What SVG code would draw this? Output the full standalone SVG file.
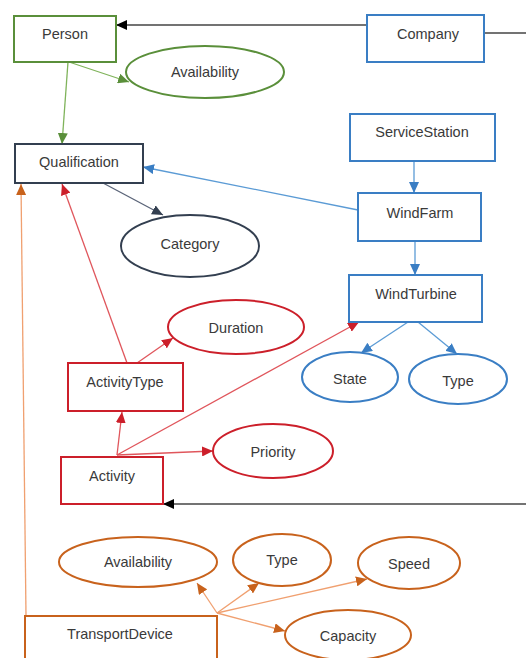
<svg xmlns="http://www.w3.org/2000/svg" width="526" height="658" viewBox="0 0 526 658">
<style>
text{font-family:"Liberation Sans",Arial,sans-serif;font-size:14.5px;fill:#3a3a3a;text-anchor:middle;dominant-baseline:central}
.n{fill:#fff;stroke-width:2}
.g{stroke:#5a8f3a}
.b{stroke:#3a7ec4}
.r{stroke:#cc1f2a}
.o{stroke:#c8621c}
.k{stroke:#333f50}
.c{fill:none;stroke-width:1.3}
</style>
<defs>
<marker id="ak" markerUnits="userSpaceOnUse" markerWidth="12" markerHeight="10" refX="11" refY="5" orient="auto"><path d="M0,0 L11,5 L0,10 z" fill="#000"/></marker>
<marker id="ag" markerUnits="userSpaceOnUse" markerWidth="12" markerHeight="10" refX="11" refY="5" orient="auto"><path d="M0,0 L11,5 L0,10 z" fill="#5a8f3a"/></marker>
<marker id="ab" markerUnits="userSpaceOnUse" markerWidth="12" markerHeight="10" refX="11" refY="5" orient="auto"><path d="M0,0 L11,5 L0,10 z" fill="#3a7ec4"/></marker>
<marker id="ar" markerUnits="userSpaceOnUse" markerWidth="12" markerHeight="10" refX="11" refY="5" orient="auto"><path d="M0,0 L11,5 L0,10 z" fill="#cc1f2a"/></marker>
<marker id="ao" markerUnits="userSpaceOnUse" markerWidth="12" markerHeight="10" refX="11" refY="5" orient="auto"><path d="M0,0 L11,5 L0,10 z" fill="#c8621c"/></marker>
<marker id="an" markerUnits="userSpaceOnUse" markerWidth="12" markerHeight="10" refX="11" refY="5" orient="auto"><path d="M0,0 L11,5 L0,10 z" fill="#333f50"/></marker>
</defs>
<g id="connectors">
<line class="c" x1="367" y1="25" x2="116" y2="25" stroke="#444" marker-end="url(#ak)"/>
<line class="c" x1="484" y1="33" x2="526" y2="33" stroke="#444"/>
<line class="c" x1="526" y1="504" x2="163" y2="504" stroke="#444" marker-end="url(#ak)"/>
<line class="c" x1="69" y1="62" x2="129" y2="82" stroke="#7fb35a" marker-end="url(#ag)"/>
<line class="c" x1="68" y1="62" x2="62" y2="144" stroke="#7fb35a" marker-end="url(#ag)"/>
<line class="c" x1="414" y1="161" x2="414" y2="193" stroke="#5b9bd5" marker-end="url(#ab)"/>
<line class="c" x1="358" y1="210" x2="143" y2="167" stroke="#5b9bd5" marker-end="url(#ab)"/>
<line class="c" x1="415" y1="241" x2="415" y2="275" stroke="#5b9bd5" marker-end="url(#ab)"/>
<line class="c" x1="408" y1="322" x2="361" y2="353" stroke="#5b9bd5" marker-end="url(#ab)"/>
<line class="c" x1="418" y1="322" x2="457" y2="354" stroke="#5b9bd5" marker-end="url(#ab)"/>
<line class="c" x1="103" y1="183" x2="163" y2="215" stroke="#5a6478" marker-end="url(#an)"/>
<line class="c" x1="127" y1="363" x2="62" y2="184" stroke="#e0565c" marker-end="url(#ar)"/>
<line class="c" x1="137" y1="363" x2="173" y2="338" stroke="#e0565c" marker-end="url(#ar)"/>
<line class="c" x1="117" y1="455" x2="122" y2="412" stroke="#e0565c" marker-end="url(#ar)"/>
<line class="c" x1="117" y1="455" x2="359" y2="322" stroke="#e0565c" marker-end="url(#ar)"/>
<line class="c" x1="117" y1="455" x2="213" y2="451" stroke="#e0565c" marker-end="url(#ar)"/>
<line class="c" x1="26" y1="616" x2="21" y2="184" stroke="#f0a070" marker-end="url(#ao)"/>
<line class="c" x1="217" y1="613" x2="197" y2="583" stroke="#f0a070" marker-end="url(#ao)"/>
<line class="c" x1="217" y1="613" x2="259" y2="583" stroke="#f0a070" marker-end="url(#ao)"/>
<line class="c" x1="217" y1="613" x2="367" y2="579" stroke="#f0a070" marker-end="url(#ao)"/>
<line class="c" x1="217" y1="613" x2="285" y2="631" stroke="#f0a070" marker-end="url(#ao)"/>
</g>
<g id="person"><rect class="n g" x="14" y="16" width="102" height="46"/><text x="65" y="34">Person</text></g>
<g id="company"><rect class="n b" x="367" y="15" width="117" height="47"/><text x="428" y="34">Company</text></g>
<g id="person-availability"><ellipse class="n g" cx="205" cy="72" rx="79" ry="26"/><text x="205" y="72">Availability</text></g>
<g id="qualification"><rect class="n k" x="15" y="144" width="128" height="39"/><text x="79" y="162">Qualification</text></g>
<g id="servicestation"><rect class="n b" x="350" y="114" width="145" height="47"/><text x="422" y="132">ServiceStation</text></g>
<g id="windfarm"><rect class="n b" x="358" y="193" width="123" height="48"/><text x="420" y="213">WindFarm</text></g>
<g id="category"><ellipse class="n k" cx="190" cy="246" rx="69" ry="31"/><text x="190" y="244">Category</text></g>
<g id="windturbine"><rect class="n b" x="349" y="275" width="133" height="47"/><text x="416" y="294">WindTurbine</text></g>
<g id="state"><ellipse class="n b" cx="350" cy="377" rx="48" ry="25"/><text x="350" y="379">State</text></g>
<g id="turbine-type"><ellipse class="n b" cx="458" cy="379" rx="49" ry="25"/><text x="458" y="381">Type</text></g>
<g id="duration"><ellipse class="n r" cx="236" cy="327" rx="68" ry="27"/><text x="236" y="328">Duration</text></g>
<g id="activitytype"><rect class="n r" x="68" y="363" width="115" height="48"/><text x="125" y="382">ActivityType</text></g>
<g id="priority"><ellipse class="n r" cx="273" cy="451" rx="60" ry="27"/><text x="273" y="452">Priority</text></g>
<g id="activity"><rect class="n r" x="61" y="457" width="102" height="47"/><text x="112" y="476">Activity</text></g>
<g id="td-availability"><ellipse class="n o" cx="138" cy="562" rx="79" ry="25"/><text x="138" y="562">Availability</text></g>
<g id="td-type"><ellipse class="n o" cx="282" cy="560" rx="49" ry="26"/><text x="282" y="560">Type</text></g>
<g id="speed"><ellipse class="n o" cx="409" cy="563" rx="51" ry="26"/><text x="409" y="564">Speed</text></g>
<g id="capacity"><ellipse class="n o" cx="348" cy="635" rx="63" ry="25"/><text x="348" y="636">Capacity</text></g>
<g id="transportdevice"><rect class="n o" x="25" y="616" width="192" height="50"/><text x="120" y="634">TransportDevice</text></g>
</svg>
